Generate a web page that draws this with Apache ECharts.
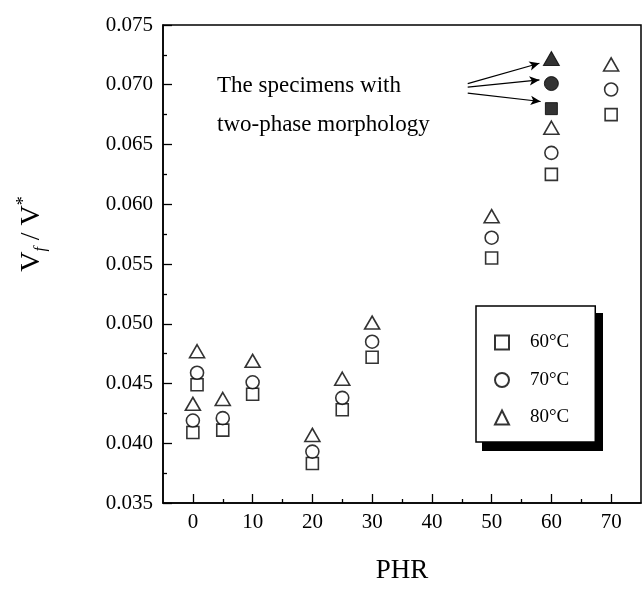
<!DOCTYPE html>
<html>
<head>
<meta charset="utf-8">
<script src="https://cdn.jsdelivr.net/npm/echarts@6/dist/echarts.min.js"></script>
<style>
  html, body { margin: 0; padding: 0; background: #fff; }
  #main { width: 642px; height: 592px; }
</style>
</head>
<body>
<div id="main"></div>
<script>
// PHR positions (the first two points both sit near 0)
var phr = [0, 0.7, 5, 10, 20, 25, 30, 50, 60, 70];
var v60 = [0.0409, 0.0449, 0.0411, 0.0441, 0.0383, 0.0428, 0.0472, 0.0555, 0.0625, 0.0675];
var v70 = [0.0419, 0.0459, 0.0421, 0.0451, 0.0393, 0.0438, 0.0485, 0.0572, 0.0643, 0.0696];
var v80 = [0.0433, 0.0477, 0.0437, 0.0469, 0.0407, 0.0454, 0.0501, 0.0590, 0.0664, 0.0717];

// two-phase specimens (filled)
var twoPhaseX = 60;
var twoPhase60 = 0.0680, twoPhase70 = 0.0701, twoPhase80 = 0.0722;

var xMajor = [0, 10, 20, 30, 40, 50, 60, 70];
var xMinor = [5, 15, 25, 35, 45, 55, 65];

// arrows: start / end in data units
var arrowFrom = [[46, 0.0701], [46, 0.0698], [46, 0.0693]];
var arrowTo = [[58, 0.0718], [58, 0.0704], [58.2, 0.0686]];

var serif = 'Liberation Serif';

function pairs(xs, ys) {
  return xs.map(function (x, i) { return [x, ys[i]]; });
}

var openStyle = { color: '#fff', borderColor: '#000', borderWidth: 1.6 };
var fillStyle = { color: '#000', borderColor: '#000', borderWidth: 1 };

var option = {
  backgroundColor: '#fff',
  animation: false,
  grid: { left: 163, top: 25, right: 1, bottom: 89, show: true, borderColor: '#000', borderWidth: 1.5 },
  xAxis: [{
    type: 'value', min: -5, max: 75,
    name: 'PHR', nameLocation: 'middle', nameGap: 54,
    nameTextStyle: { fontFamily: serif, fontSize: 27, color: '#000' },
    axisLine: { onZero: false, lineStyle: { color: '#000', width: 1.5 } },
    axisTick: { inside: true, length: 9, customValues: xMajor, lineStyle: { color: '#000', width: 1.3 } },
    axisLabel: { customValues: xMajor, fontFamily: serif, fontSize: 21, color: '#000', margin: 9 },
    splitLine: { show: false }
  }, {
    type: 'value', min: -5, max: 75, position: 'bottom', offset: 0,
    axisLine: { show: false, onZero: false },
    axisTick: { inside: true, length: 4, customValues: xMinor, lineStyle: { color: '#000', width: 1.3 } },
    axisLabel: { show: false },
    splitLine: { show: false }
  }],
  yAxis: {
    type: 'value', min: 0.035, max: 0.075, interval: 0.005,
    name: '{v|V}{sub|f}{v| / V}{sup|*}', nameLocation: 'middle', nameGap: 114,
    nameTextStyle: {
      padding: [0, 0, 0, 60],
      rich: {
        v: { fontFamily: serif, fontSize: 28, lineHeight: 34, color: '#000' },
        sub: { fontFamily: serif, fontSize: 16, fontStyle: 'italic', lineHeight: 14, verticalAlign: 'bottom', color: '#000' },
        sup: { fontFamily: serif, fontSize: 18, lineHeight: 12, verticalAlign: 'top', color: '#000' }
      }
    },
    axisLine: { onZero: false, lineStyle: { color: '#000', width: 1.5 } },
    axisTick: { inside: true, length: 9, lineStyle: { color: '#000', width: 1.3 } },
    minorTick: { show: true, splitNumber: 2, length: 4, lineStyle: { color: '#000', width: 1.3 } },
    axisLabel: {
      fontFamily: serif, fontSize: 21, color: '#000', margin: 10,
      formatter: function (v) { return v.toFixed(3); }
    },
    splitLine: { show: false }
  },
  legend: {
    orient: 'vertical', left: 476, top: 306, z: 10,
    data: ['60°C', '70°C', '80°C'],
    itemWidth: 14, itemHeight: 14, itemGap: 18.5,
    padding: [27, 26, 15, 18],
    backgroundColor: '#fff', borderColor: '#000', borderWidth: 1.5,
    textStyle: { fontFamily: serif, fontSize: 19, color: '#000', padding: [0, 0, 0, 16] }
  },
  graphic: [{
    // drop shadow behind the legend box
    type: 'rect', left: 482, top: 313, z: 1,
    shape: { width: 121, height: 138 },
    style: { fill: '#000' }
  }, {
    type: 'text', left: 217, top: 66,
    style: { text: 'The specimens with\ntwo-phase morphology', font: '23px "Liberation Serif"', fill: '#000', lineHeight: 39 }
  }],
  series: [
    { name: '60°C', type: 'scatter', symbol: 'rect', symbolSize: 12, itemStyle: openStyle, data: pairs(phr, v60) },
    { name: '70°C', type: 'scatter', symbol: 'circle', symbolSize: 13, itemStyle: openStyle, data: pairs(phr, v70) },
    { name: '80°C', type: 'scatter', symbol: 'triangle', symbolSize: [15, 13], itemStyle: openStyle, data: pairs(phr, v80) },
    { name: 'two-phase 60', type: 'scatter', symbol: 'rect', symbolSize: 12, itemStyle: fillStyle, data: [[twoPhaseX, twoPhase60]] },
    { name: 'two-phase 70', type: 'scatter', symbol: 'circle', symbolSize: 14, itemStyle: fillStyle, data: [[twoPhaseX, twoPhase70]] },
    {
      name: 'two-phase 80', type: 'scatter', symbol: 'triangle', symbolSize: [16, 14], itemStyle: fillStyle,
      data: [[twoPhaseX, twoPhase80]],
      markLine: {
        silent: true, symbol: ['none', 'arrow'], symbolSize: [7, 10],
        label: { show: false },
        lineStyle: { color: '#000', width: 1.2, type: 'solid' },
        data: arrowTo.map(function (p, i) { return [{ coord: arrowFrom[i] }, { coord: p }]; })
      }
    }
  ]
};

var chart = echarts.init(document.getElementById('main'));
chart.setOption(option);
</script>
</body>
</html>
